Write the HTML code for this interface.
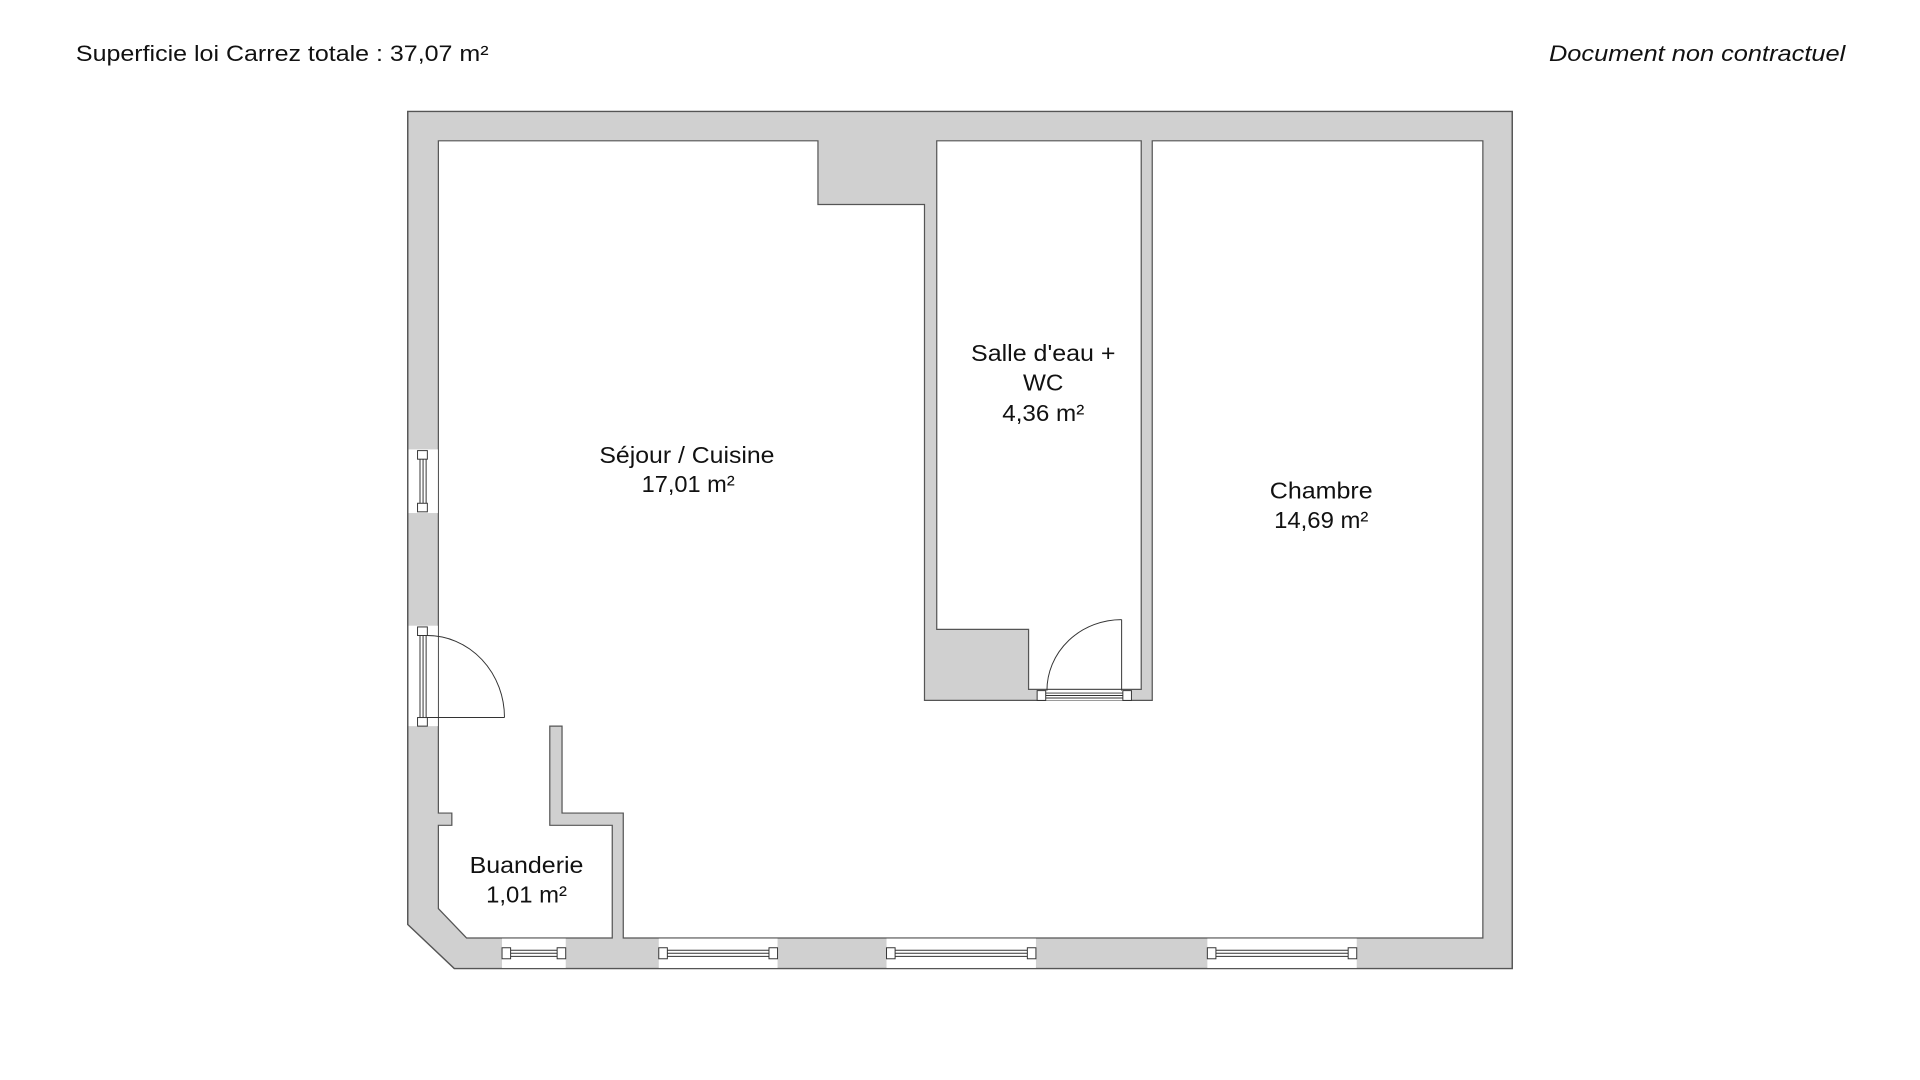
<!DOCTYPE html>
<html><head><meta charset="utf-8"><style>
html,body{margin:0;padding:0;background:#fff;}
svg{display:block}
text{font-family:"Liberation Sans",sans-serif;fill:#111;}
</style></head><body>
<svg width="1920" height="1080" viewBox="0 0 1568 882" xmlns="http://www.w3.org/2000/svg">
<rect width="1568" height="882" fill="#fff"/>
<text x="62" y="50" font-size="18" textLength="337" lengthAdjust="spacingAndGlyphs">Superficie loi Carrez totale :  37,07 m²</text>
<text x="1265" y="50" font-size="18" font-style="italic" textLength="242" lengthAdjust="spacingAndGlyphs">Document non contractuel</text>

<polygon points="333,91 1235,91 1235,791 371,791 333,755" fill="#d0d0d0" stroke="#555" stroke-width="1.2"/>
<polygon points="358,115 668,115 668,167 755,167 755,572 941,572 941,115 1211,115 1211,766 509,766 509,664 459,664 459,593 449,593 449,674 500,674 500,766 381,766 358,742 358,674 369,674 369,664 358,664" fill="#fff" stroke="#555" stroke-width="1"/>
<polygon points="765,115 932,115 932,563 840,563 840,514 765,514" fill="#fff" stroke="#555" stroke-width="1"/>

<g stroke="#333" stroke-width="0.8" fill="#fff">
<rect x="847" y="563.5" width="77" height="8.5" stroke="none"/>
<rect x="847" y="564" width="7" height="8"/>
<rect x="917" y="564" width="7" height="8"/>
<line x1="854" y1="566" x2="917" y2="566"/>
<line x1="854" y1="568" x2="917" y2="568"/>
<line x1="854" y1="570" x2="917" y2="570"/>
<line x1="916" y1="506" x2="916" y2="564" fill="none"/>
<path d="M916,506 A61,58 0 0 0 855,564" fill="none"/>

<rect x="333.6" y="511" width="24" height="82" stroke="none"/>
<rect x="341" y="512" width="8" height="7"/>
<rect x="341" y="586" width="8" height="7"/>
<line x1="343" y1="519" x2="343" y2="586"/>
<line x1="345.5" y1="519" x2="345.5" y2="586"/>
<line x1="348" y1="519" x2="348" y2="586"/>
<line x1="349" y1="586" x2="412" y2="586"/>
<path d="M349,519 A63,67 0 0 1 412,586" fill="none"/>

<rect x="333.6" y="367" width="24" height="52" stroke="none"/>
<rect x="341" y="368" width="8" height="7"/>
<rect x="341" y="411" width="8" height="7"/>
<line x1="343" y1="375" x2="343" y2="411"/>
<line x1="345.5" y1="375" x2="345.5" y2="411"/>
<line x1="348" y1="375" x2="348" y2="411"/>

<g>
<rect x="410" y="766.5" width="52" height="24" stroke="none"/>
<rect x="410" y="774" width="7" height="9"/><rect x="455" y="774" width="7" height="9"/>
<line x1="417" y1="776" x2="455" y2="776"/><line x1="417" y1="778.5" x2="455" y2="778.5"/><line x1="417" y1="781" x2="455" y2="781"/>
</g>
<g>
<rect x="538" y="766.5" width="97" height="24" stroke="none"/>
<rect x="538" y="774" width="7" height="9"/><rect x="628" y="774" width="7" height="9"/>
<line x1="545" y1="776" x2="628" y2="776"/><line x1="545" y1="778.5" x2="628" y2="778.5"/><line x1="545" y1="781" x2="628" y2="781"/>
</g>
<g>
<rect x="724" y="766.5" width="122" height="24" stroke="none"/>
<rect x="724" y="774" width="7" height="9"/><rect x="839" y="774" width="7" height="9"/>
<line x1="731" y1="776" x2="839" y2="776"/><line x1="731" y1="778.5" x2="839" y2="778.5"/><line x1="731" y1="781" x2="839" y2="781"/>
</g>
<g>
<rect x="986" y="766.5" width="122" height="24" stroke="none"/>
<rect x="986" y="774" width="7" height="9"/><rect x="1101" y="774" width="7" height="9"/>
<line x1="993" y1="776" x2="1101" y2="776"/><line x1="993" y1="778.5" x2="1101" y2="778.5"/><line x1="993" y1="781" x2="1101" y2="781"/>
</g>
</g>

<g font-size="19" text-anchor="middle">
<text x="561" y="378" textLength="143" lengthAdjust="spacingAndGlyphs">Séjour / Cuisine</text>
<text x="562" y="402" textLength="76" lengthAdjust="spacingAndGlyphs">17,01 m²</text>
<text x="852" y="295" textLength="118" lengthAdjust="spacingAndGlyphs">Salle d'eau +</text>
<text x="852" y="319" textLength="33" lengthAdjust="spacingAndGlyphs">WC</text>
<text x="852" y="344" textLength="67" lengthAdjust="spacingAndGlyphs">4,36 m²</text>
<text x="1079" y="407" textLength="84" lengthAdjust="spacingAndGlyphs">Chambre</text>
<text x="1079" y="431" textLength="77" lengthAdjust="spacingAndGlyphs">14,69 m²</text>
<text x="430" y="713" textLength="93" lengthAdjust="spacingAndGlyphs">Buanderie</text>
<text x="430" y="737" textLength="66" lengthAdjust="spacingAndGlyphs">1,01 m²</text>
</g>
</svg>
</body></html>
